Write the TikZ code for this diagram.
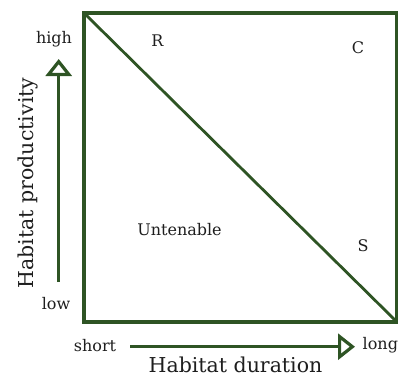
\documentclass[tikz,border=0pt]{standalone}
\usepackage{fontspec}
\setmainfont{DejaVu Serif}
\usetikzlibrary{arrows.meta}

\definecolor{habgreen}{RGB}{46,84,36}
\definecolor{labelgray}{RGB}{30,30,30}

\begin{document}
\begin{tikzpicture}[
  x=1pt, y=-1pt,
  frame/.style={draw=habgreen, line width=3.2pt},
  axisarrow/.style={draw=habgreen, line width=3.2pt,
    -{Triangle[open, length=17pt, width=26pt]}},
  small/.style={text=labelgray, inner sep=0pt, anchor=base,
    font=\fontsize{16}{19}\selectfont},
  axistitle/.style={text=labelgray, inner sep=0pt, anchor=base,
    font=\fontsize{20.5}{24}\selectfont}
]
\useasboundingbox (0,0) rectangle (398,376);

% Frame corners
\coordinate (tl) at (84,13);
\coordinate (tr) at (397,13);
\coordinate (bl) at (84,322);
\coordinate (br) at (397,322);

% Frame and diagonal
\draw[frame] (tl) -- (tr) -- (br) -- (bl) -- cycle;
\draw[frame, line width=2.8pt] (tl) -- (br);

% Strategy regions
\node[small] (r) at (157.5,46.5) {R};
\node[small] (c) at (358,53) {C};
\node[small] (untenable) at (179.5,235) {Untenable};
\node[small] (s) at (363,251) {S};

% Productivity axis
\node[small] (high) at (54,43) {high};
\node[small] (low) at (56,309) {low};
\coordinate (ybot) at (58.7,282);
\coordinate (ytop) at (58.7,59);
\draw[axisarrow] (ybot) -- (ytop);
\node[axistitle, rotate=90] (ytitle) at (33,183) {Habitat productivity};

% Duration axis
\node[small] (short) at (95,351.5) {short};
\node[small, anchor=base west] (long) at (362.5,349) {long};
\coordinate (xleft) at (130,346.7);
\coordinate (xright) at (355,346.7);
\draw[axisarrow] (xleft) -- (xright);
\node[axistitle] (xtitle) at (235.5,372.5) {Habitat duration};

\end{tikzpicture}
\end{document}
